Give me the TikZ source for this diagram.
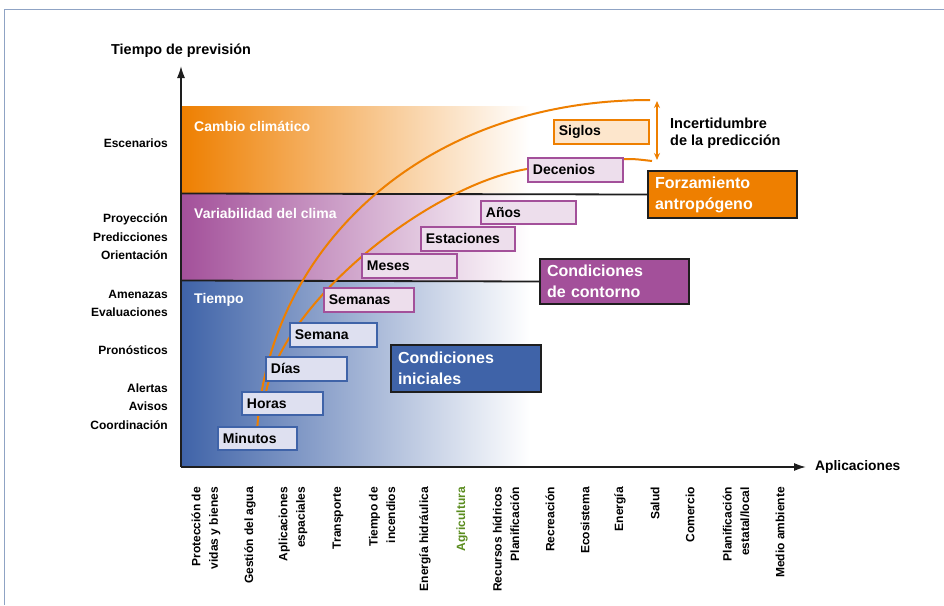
\documentclass[tikz,border=0pt]{standalone}
\usepackage{fontspec}
\setmainfont{Liberation Sans}
\usetikzlibrary{arrows.meta}
\definecolor{corange}{HTML}{EE7F00}
\definecolor{cpurple}{HTML}{A3509A}
\definecolor{cblue}{HTML}{3F63A8}
\definecolor{fblue}{HTML}{DEE0F0}
\definecolor{fpurple}{HTML}{EDDEEC}
\definecolor{forange}{HTML}{FDE6CC}
\definecolor{cframe}{HTML}{8FA3C4}
\definecolor{cgreen}{HTML}{5A8C1E}
\definecolor{cdark}{HTML}{1E1E1E}
\begin{document}
\begin{tikzpicture}[x=1pt,y=-1pt,
  sbox/.style={draw, line width=1.8pt, anchor=north west, inner xsep=5pt, inner ysep=0pt,
    align=left, font=\bfseries\fontsize{14}{16}\selectfont},
  bluebox/.style={sbox, draw=cblue, fill=fblue},
  purplebox/.style={sbox, draw=cpurple, fill=fpurple},
  orangebox/.style={sbox, draw=corange, fill=forange},
  bigbox/.style={draw=cdark, line width=2pt, anchor=north west, inner xsep=7pt, inner ysep=0pt,
    align=left, text=white, font=\bfseries\fontsize{16}{21}\selectfont},
  bandlabel/.style={anchor=west, inner sep=0pt, text=white, font=\bfseries\fontsize{14}{16}\selectfont},
  ylab/.style={anchor=east, align=right, inner sep=0pt, font=\bfseries\fontsize{12}{18.5}\selectfont},
  xlab/.style={anchor=east, rotate=90, align=right, inner sep=0pt, font=\bfseries\fontsize{12}{17.5}\selectfont},
  axis/.style={draw=cdark, line width=1.6pt, -{Latex[length=12pt,width=8pt]}},
  sep/.style={draw=cdark, line width=1.8pt},
  curve/.style={draw=corange, line width=2pt},
]
\useasboundingbox (0,0) rectangle (944,605);
\fill[white] (0,0) rectangle (944,605);
% frame
\draw[cframe, line width=1.5pt] (4.5,605) -- (4.5,9.5) -- (944,9.5);

% bands
\shade[left color=corange, right color=white] (181,106) rectangle (530,193);
\shade[left color=cpurple, right color=white] (181,193) rectangle (530,281);
\shade[left color=cblue, right color=white] (181,281) rectangle (530,467);

% coordinates
\coordinate (origin) at (181,467);
\coordinate (ytip) at (181,66);
\coordinate (xtip) at (806,467);
\coordinate (l1) at (181,193.5);
\coordinate (l2) at (181,280.5);
\coordinate (innerstart) at (266,392);
\coordinate (outerend) at (650,100);
\coordinate (decout) at (622,159);
\coordinate (innerend) at (652,161);
\coordinate (unctop) at (657,101);
\coordinate (uncbot) at (657,160);

% big boxes
\node[bigbox, fill=corange, text width=135pt, minimum height=47pt] (forz) at (647,170) {Forzamiento\\antropógeno};
\node[bigbox, fill=cpurple, text width=135pt, minimum height=45pt] (cont) at (539,258) {Condiciones\\de contorno};
\node[bigbox, fill=cblue, text width=136pt, minimum height=47pt] (inic) at (390,344) {Condiciones\\iniciales};

% separator lines
\draw[sep] (l1) -- (forz.west);
\draw[sep] (l2) -- (cont.west);

% axes
\draw[axis] (origin) -- (ytip);
\draw[axis] (origin) -- (xtip);

% small boxes (positions)
\node[bluebox, text width=69pt, minimum height=23pt] (min) at (217,426) {Minutos};
\node[bluebox, text width=71pt, minimum height=23pt] (hor) at (241,391) {Horas};
\node[bluebox, text width=71pt, minimum height=24pt] (dia) at (265,356) {Días};
\node[bluebox, text width=77pt, minimum height=24pt] (sem) at (289,322) {Semana};

% curves (behind upper boxes)
\draw[curve] (min.north) .. controls (270,250) and (420,100) .. (outerend);
\draw[curve] (innerstart) .. controls (285,300) and (430,185) .. (527,169);
\draw[curve] (decout) .. controls (635,159) .. (innerend);
\draw[draw=corange, line width=1.5pt, {Stealth[length=7pt,width=6pt]}-{Stealth[length=7pt,width=6pt]}] (unctop) -- (uncbot);

% redraw lower boxes over curves
\node[bluebox, text width=69pt, minimum height=23pt] (min) at (217,426) {Minutos};
\node[bluebox, text width=71pt, minimum height=23pt] (hor) at (241,391) {Horas};
\node[bluebox, text width=71pt, minimum height=24pt] (dia) at (265,356) {Días};
\node[bluebox, text width=77pt, minimum height=24pt] (sem) at (289,322) {Semana};
\node[purplebox, text width=80pt, minimum height=24pt] (sems) at (323,287) {Semanas};
\node[purplebox, text width=85pt, minimum height=24pt] (mes) at (361,253) {Meses};
\node[purplebox, text width=84pt, minimum height=24pt] (est) at (420,226) {Estaciones};
\node[purplebox, text width=85pt, minimum height=23pt] (anos) at (480,200) {Años};
\node[purplebox, text width=85pt, minimum height=24pt] (dec) at (527,157) {Decenios};
\node[orangebox, text width=85pt, minimum height=24pt] (sig) at (553,119) {Siglos};

% band labels
\node[bandlabel] (bl1) at (194,126) {Cambio climático};
\node[bandlabel] (bl2) at (194,213) {Variabilidad del clima};
\node[bandlabel] (bl3) at (194,300) {Tiempo};

% axis titles
\node[anchor=west, inner sep=0pt, font=\bfseries\fontsize{14.4}{16}\selectfont] (ytitle) at (111,51) {Tiempo de previsión};
\node[anchor=west, inner sep=0pt, font=\bfseries\fontsize{13.8}{16}\selectfont] (xtitle) at (815,467) {Aplicaciones};
\node[anchor=west, align=left, inner sep=0pt, font=\bfseries\fontsize{14.5}{17}\selectfont] (unc) at (670,133) {Incertidumbre\\de la predicción};

% y labels
\node[ylab] (y1) at (168,143) {Escenarios};
\node[ylab] (y2) at (168,237) {Proyección\\Predicciones\\Orientación};
\node[ylab] (y3) at (168,303.5) {Amenazas\\Evaluaciones};
\node[ylab] (y4) at (168,350) {Pronósticos};
\node[ylab] (y5) at (168,406.5) {Alertas\\Avisos\\Coordinación};

% x labels
\node[xlab] (x1) at (206,487) {Protección de\\vidas y bienes};
\node[xlab] (x2) at (250,487) {Gestión del agua};
\node[xlab] (x3) at (293,487) {Aplicaciones\\espaciales};
\node[xlab] (x4) at (338,487) {Transporte};
\node[xlab] (x5) at (382,487) {Tiempo de\\incendios};
\node[xlab] (x6) at (425,487) {Energía hidráulica};
\node[xlab, text=cgreen] (x7) at (462,487) {Agricultura};
\node[xlab] (x8) at (506,487) {Recursos hídricos\\Planificación};
\node[xlab] (x9) at (550,487) {Recreación};
\node[xlab] (x10) at (585,487) {Ecosistema};
\node[xlab] (x11) at (620,487) {Energía};
\node[xlab] (x12) at (655,487) {Salud};
\node[xlab] (x13) at (690,487) {Comercio};
\node[xlab] (x14) at (736,487) {Planificación\\estatal/local};
\node[xlab] (x15) at (780,487) {Medio ambiente};
\end{tikzpicture}
\end{document}
